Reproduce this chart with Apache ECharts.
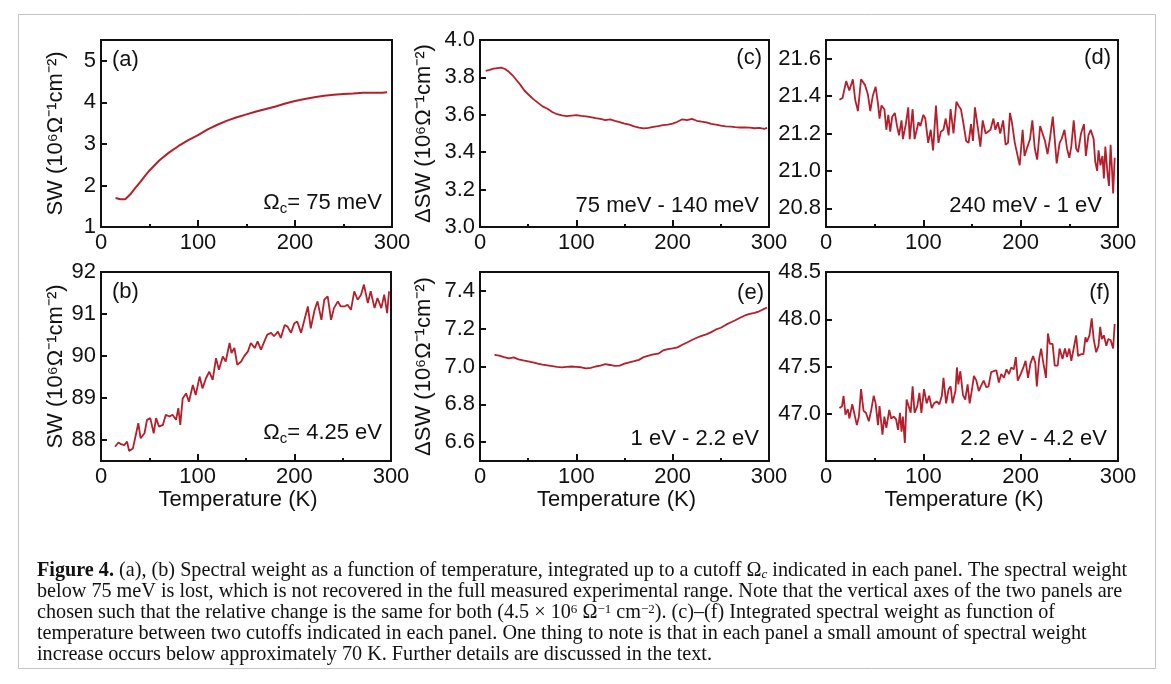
<!DOCTYPE html>
<html><head><meta charset="utf-8">
<script src="https://cdn.jsdelivr.net/npm/echarts@6/dist/echarts.min.js"></script>
<style>html,body{margin:0;padding:0;background:#fff}#c{width:1171px;height:684px}</style>
</head><body><div id="c"></div>
<script>
// ---------- data ----------
const xTicks = [0, 100, 200, 300];

const tempA = [15,20,25,30,35,40,45,50,60,70,80,90,100,110,120,130,140,150,160,170,180,190,200,210,220,230,240,250,260,270,280,290,295];
const swA   = [1.70,1.67,1.67,1.78,1.93,2.07,2.22,2.36,2.60,2.79,2.95,3.09,3.21,3.35,3.46,3.56,3.64,3.71,3.78,3.84,3.90,3.97,4.03,4.08,4.12,4.16,4.18,4.20,4.21,4.23,4.23,4.23,4.24];

const tempB = [14.5,18,20.7,24,27,29,33,36,38.6,41,45,47.6,51,54.5,57,60,64,67,71,74,77.6,80,82,84.5,88,91,95,98,102,105,108.6,112,115.5,119,122,126,129,133,135,138,141,145,148,152,155,159,162,165.5,169,172,176,179,183,186,190,193,196.5,200,203,207,210,214,217,221,224,228,231,234.5,238,241,245,248,252,255,258.6,262,265.5,269,272,276,279,283,286,290,293,296,298];
const swB   = [87.84,87.94,87.90,87.88,87.96,87.74,87.80,88.12,88.40,88.04,88.16,88.48,88.52,88.16,88.52,88.32,88.36,88.60,88.56,88.60,88.48,88.76,88.36,88.99,89.11,88.91,89.31,89.07,89.51,89.23,89.47,89.63,89.43,89.95,89.67,89.99,89.87,90.31,90.07,90.19,89.79,89.87,89.99,90.11,90.31,90.19,90.35,90.15,90.35,90.51,90.55,90.47,90.58,90.43,90.74,90.70,90.55,90.78,90.82,90.55,90.82,91.18,90.66,91.10,91.30,90.86,91.34,91.42,90.86,91.14,91.30,91.18,91.18,91.22,91.10,91.54,91.34,91.46,91.70,91.26,91.54,91.14,91.38,91.14,91.46,91.02,91.54];

const tempC = [6,10,14,18,22,26,30,34,38,42,46,50,55,60,65,70,75,80,85,90,95,100,105,110,115,120,125,130,135,140,145,150,155,160,165,170,175,180,185,190,195,200,205,210,215,220,225,230,235,240,245,250,255,260,265,270,275,280,285,290,295,298];
const dswC  = [3.835,3.840,3.847,3.850,3.852,3.845,3.830,3.810,3.785,3.760,3.730,3.710,3.685,3.665,3.645,3.632,3.615,3.603,3.597,3.593,3.596,3.598,3.594,3.592,3.588,3.582,3.578,3.572,3.576,3.568,3.561,3.553,3.547,3.538,3.532,3.527,3.530,3.536,3.540,3.545,3.548,3.553,3.563,3.576,3.572,3.578,3.568,3.563,3.560,3.552,3.548,3.542,3.538,3.537,3.534,3.532,3.533,3.531,3.528,3.530,3.525,3.530];

const tempD = [13.8,17,20.7,24,27.6,30,32.8,36,40,43,45.5,48,51,53.4,55,57,60,62,64,66,68,70.7,73,75,77.6,79,82,84.5,86,89,91,95,97,100,102,105,107.6,110,113,115.5,118,120.7,123,126,128,131,134,136,138.6,141,144,146.5,149,151,153,156,158.6,161,164,166,169,172,174,176.6,179,182,184.5,187,189,191,194,196.5,199,202,204,207,209.6,212,214.5,217,220,222,225,227.6,230,233,235,237,240,242,245,247.6,250,252,254.5,257,259,262,265,267,269.6,272,275,276.6,278.6,280,282,284,285.5,287,289,290.7,292.4,293.8,295,296.6];
const dswD  = [21.38,21.39,21.48,21.43,21.49,21.38,21.32,21.49,21.46,21.41,21.32,21.40,21.45,21.36,21.28,21.35,21.33,21.22,21.30,21.21,21.29,21.31,21.24,21.19,21.27,21.17,21.25,21.34,21.17,21.33,21.17,21.26,21.24,21.30,21.28,21.15,21.22,21.11,21.35,21.15,21.21,21.22,21.28,21.19,21.33,21.20,21.37,21.35,21.33,21.26,21.16,21.15,21.25,21.16,21.34,21.23,21.13,21.27,21.20,21.19,21.22,21.28,21.22,21.26,21.20,21.27,21.14,21.15,21.31,21.26,21.15,21.09,21.03,21.22,21.08,21.13,21.17,21.27,21.12,21.06,21.24,21.23,21.16,21.09,21.17,21.29,21.17,21.04,21.15,21.17,21.22,21.12,21.07,21.13,21.27,21.12,21.10,21.20,21.25,21.08,21.19,21.22,21.17,21.05,21.00,21.11,21.03,21.08,20.96,21.13,21.00,20.92,21.14,21.01,20.88,21.07];

const tempE = [15,20,25,30,35,40,45,50,55,60,65,70,75,80,85,90,95,100,105,110,115,120,125,130,135,140,145,150,155,160,165,170,175,180,185,190,195,200,205,210,215,220,225,230,235,240,245,250,255,260,265,270,275,280,285,290,295,298];
const dswE  = [7.061,7.058,7.050,7.043,7.048,7.038,7.032,7.027,7.022,7.015,7.010,7.006,7.002,6.998,6.995,6.998,7.000,6.998,6.996,6.990,6.993,7.000,7.005,7.012,7.008,7.003,7.005,7.015,7.022,7.028,7.035,7.050,7.058,7.064,7.068,7.085,7.092,7.096,7.101,7.115,7.127,7.140,7.152,7.162,7.170,7.182,7.196,7.205,7.220,7.233,7.245,7.258,7.270,7.278,7.284,7.292,7.305,7.312];

const tempF = [13.8,16.5,18,20,22.4,24,27,29,31.7,33.8,36,38.6,41,44,46.5,49,51,53.4,55,58,60,62,65,67,69.7,72,74,76,77.6,79,81,82.8,85.5,87,89,91,93.8,96,98,100.7,103.4,106,108.6,111,113.8,116.5,119,120.7,123.4,126,128,130,133,134.5,136,138,140.7,143,145.5,147.6,150,152,154.5,157,159,162,164.8,167,169.7,172,175,177.6,180,182.8,185.5,188,190.3,193,195,197,200,202.8,205,207.6,210,212.8,215,216.6,219,221,223.4,226,228,230,232.8,235,238,240,243,245.5,247.6,250,252,255,257,259,262,264.5,266.6,268,270.7,273,275,277.6,280,281.7,283.4,285.5,288,290,292.4,295,296.6];
const dswF  = [47.06,47.08,47.19,46.99,47.05,46.95,47.10,47.11,46.88,46.97,47.26,47.03,47.01,46.92,47.04,47.19,47.11,46.88,47.08,46.78,46.97,46.85,47.04,46.95,46.97,46.94,46.83,47.01,46.81,46.97,46.69,47.15,47.06,47.01,47.29,47.01,47.08,47.22,47.01,47.26,47.11,47.19,47.06,47.11,47.13,47.10,47.19,47.38,47.11,47.26,47.29,47.11,47.24,47.49,47.31,47.45,47.20,47.15,47.31,47.11,47.26,47.40,47.35,47.24,47.29,47.35,47.28,47.29,47.44,47.45,47.46,47.33,47.42,47.38,47.47,47.42,47.49,47.47,47.60,47.35,47.42,47.49,47.56,47.38,47.53,47.61,47.54,47.29,47.58,47.69,47.53,47.38,47.85,47.74,47.74,47.51,47.51,47.69,47.58,47.69,47.60,47.69,47.56,47.72,47.83,47.61,47.63,47.63,47.81,47.76,47.83,48.01,47.79,47.65,47.72,47.92,47.79,47.83,47.72,47.79,47.78,47.69,47.95];

const panelLabels = ['(a)', '(b)', '(c)', '(e)', '(d)', '(f)'];
const yNames = ['SW (10⁶Ω⁻¹cm⁻²)', 'SW (10⁶Ω⁻¹cm⁻²)', 'ΔSW (10⁶Ω⁻¹cm⁻²)', 'ΔSW (10⁶Ω⁻¹cm⁻²)', '', ''];
const xName = 'Temperature (K)';
const rangeTexts = ['75 meV - 140 meV', '1 eV - 2.2 eV', '240 meV - 1 eV', '2.2 eV - 4.2 eV'];
const captionLines = [
  '{b|Figure 4.} (a), (b) Spectral weight as a function of temperature, integrated up to a cutoff Ω{s|c} indicated in each panel. The spectral weight',
  'below 75 meV is lost, which is not recovered in the full measured experimental range. Note that the vertical axes of the two panels are',
  'chosen such that the relative change is the same for both (4.5 × 10{p|6} Ω{p|−1} cm{p|−2}). (c)–(f) Integrated spectral weight as function of',
  'temperature between two cutoffs indicated in each panel. One thing to note is that in each panel a small amount of spectral weight',
  'increase occurs below approximately 70 K. Further details are discussed in the text.'
];

// ---------- layout ----------
const RED = '#b51f2b';
const FONT = '"Liberation Sans", Arial, Helvetica, sans-serif';
const FS = 22;
const grids = [
  {left: 101, top: 40,  width: 291, height: 187}, // a
  {left: 101, top: 272, width: 290, height: 189}, // b
  {left: 480, top: 40,  width: 289, height: 187}, // c
  {left: 480, top: 272, width: 289, height: 189}, // e
  {left: 826, top: 40,  width: 292, height: 187}, // d
  {left: 826, top: 272, width: 292, height: 189}  // f
];
const yCfg = [
  {min: 1, max: 5.5, splitNumber: 5, fmt: v => v.toFixed(0), showMin: true,  showMax: false, gap: 34},
  {min: 87.5, max: 92, splitNumber: 5, fmt: v => v.toFixed(0), showMin: false, showMax: true, gap: 34},
  {min: 3.0, max: 4.0, splitNumber: 5, fmt: v => v.toFixed(1), showMin: true,  showMax: true, gap: 45},
  {min: 6.5, max: 7.5, splitNumber: 5, fmt: v => v.toFixed(1), showMin: false, showMax: false, gap: 45},
  {min: 20.7, max: 21.7, splitNumber: 5, fmt: v => v.toFixed(1), showMin: false, showMax: false, gap: 40},
  {min: 46.5, max: 48.5, splitNumber: 4, fmt: v => v.toFixed(1), showMin: false, showMax: true, gap: 40}
];
const seriesData = [[tempA, swA, 2], [tempB, swB, 1.8], [tempC, dswC, 1.8], [tempE, dswE, 1.8], [tempD, dswD, 1.8], [tempF, dswF, 1.8]];
const zip = (xs, ys) => xs.map((x, i) => [x, ys[i]]);

const option = {
  animation: false,
  backgroundColor: '#fff',
  grid: grids.map(g => Object.assign({show: true, borderColor: '#111', borderWidth: 2, backgroundColor: 'transparent'}, g)),
  xAxis: grids.map((g, i) => ({
    gridIndex: i, type: 'value', min: xTicks[0], max: xTicks[xTicks.length - 1], interval: 100,
    name: (i % 2 === 1) ? xName : '', nameLocation: 'middle', nameGap: 26,
    nameTextStyle: {fontFamily: FONT, fontSize: FS, color: '#111', padding: [0, 16, 0, 0]},
    axisLine: {show: true, lineStyle: {color: '#111', width: 2}},
    axisTick: {show: true, inside: true, length: 7, lineStyle: {color: '#111', width: 2}},
    minorTick: {show: true, splitNumber: 2, length: 3, lineStyle: {color: '#111', width: 2}},
    axisLabel: {fontFamily: FONT, fontSize: FS, color: '#111', margin: 5},
    splitLine: {show: false}
  })),
  yAxis: grids.map((g, i) => ({
    gridIndex: i, type: 'value', min: yCfg[i].min, max: yCfg[i].max, splitNumber: yCfg[i].splitNumber,
    name: yNames[i], nameLocation: 'middle', nameGap: yCfg[i].gap,
    nameTextStyle: {fontFamily: FONT, fontSize: FS, color: '#111'},
    axisLine: {show: true, lineStyle: {color: '#111', width: 2}},
    axisTick: {show: true, inside: true, length: 6, lineStyle: {color: '#111', width: 2}},
    axisLabel: {fontFamily: FONT, fontSize: FS, color: '#111', margin: 5, formatter: yCfg[i].fmt,
                showMinLabel: yCfg[i].showMin, showMaxLabel: yCfg[i].showMax},
    splitLine: {show: false}
  })),
  series: seriesData.map((s, i) => ({
    type: 'line', xAxisIndex: i, yAxisIndex: i, data: zip(s[0], s[1]),
    showSymbol: false, symbol: 'none', lineStyle: {color: RED, width: s[2]}, silent: true
  })),
  graphic: []
};

const txt = (x, y, text, align) => ({
  type: 'text', x: x, y: y, silent: true,
  style: {text: text, fontFamily: FONT, fontSize: FS, fill: '#111', align: align, verticalAlign: 'middle'}
});

const G = option.graphic;
// panel labels
G.push(txt(112, 60, panelLabels[0], 'left'));
G.push(txt(112, 292, panelLabels[1], 'left'));
G.push(txt(762, 58, panelLabels[2], 'right'));
G.push(txt(764, 293, panelLabels[3], 'right'));
G.push(txt(1111, 58, panelLabels[4], 'right'));
G.push(txt(1110, 293, panelLabels[5], 'right'));
// cutoff annotations
const richOm = {n: {fontFamily: FONT, fontSize: FS, fill: '#111', lineHeight: 26},
                s: {fontFamily: FONT, fontSize: 15, fill: '#111', lineHeight: 15, verticalAlign: 'bottom'}};
G.push({type: 'text', x: 382, y: 203, silent: true, style: {text: '{n|Ω}{s|c}{n|= 75 meV}', rich: richOm, align: 'right', verticalAlign: 'middle'}});
G.push({type: 'text', x: 382, y: 433, silent: true, style: {text: '{n|Ω}{s|c}{n|= 4.25 eV}', rich: richOm, align: 'right', verticalAlign: 'middle'}});
G.push(txt(759, 206, rangeTexts[0], 'right'));
G.push(txt(759, 439, rangeTexts[1], 'right'));
G.push(txt(1102, 206, rangeTexts[2], 'right'));
G.push(txt(1107, 439, rangeTexts[3], 'right'));
// outer frame
G.push({type: 'rect', silent: true, shape: {x: 18.5, y: 14.5, width: 1137, height: 654},
        style: {fill: 'none', stroke: '#c4c4c4', lineWidth: 1}});
// caption
const SERIF = '"Liberation Serif", "Times New Roman", serif';
const CFS = 20.2;
const capRich = {
  b: {fontFamily: SERIF, fontSize: CFS, fontWeight: 'bold', fill: '#111'},
  s: {fontFamily: SERIF, fontSize: 13, fontStyle: 'italic', fill: '#111', verticalAlign: 'bottom', lineHeight: 13},
  p: {fontFamily: SERIF, fontSize: 13, fill: '#111', verticalAlign: 'top', lineHeight: 13}
};
captionLines.forEach((line, k) => {
  G.push({type: 'text', x: 37, y: 571 + 21 * k, silent: true,
    style: {text: line, rich: capRich, fontFamily: SERIF, fontSize: CFS, fill: '#111', align: 'left', verticalAlign: 'middle'}});
});

const chart = echarts.init(document.getElementById('c'), null, {renderer: 'canvas'});
chart.setOption(option);
</script>
</body></html>
